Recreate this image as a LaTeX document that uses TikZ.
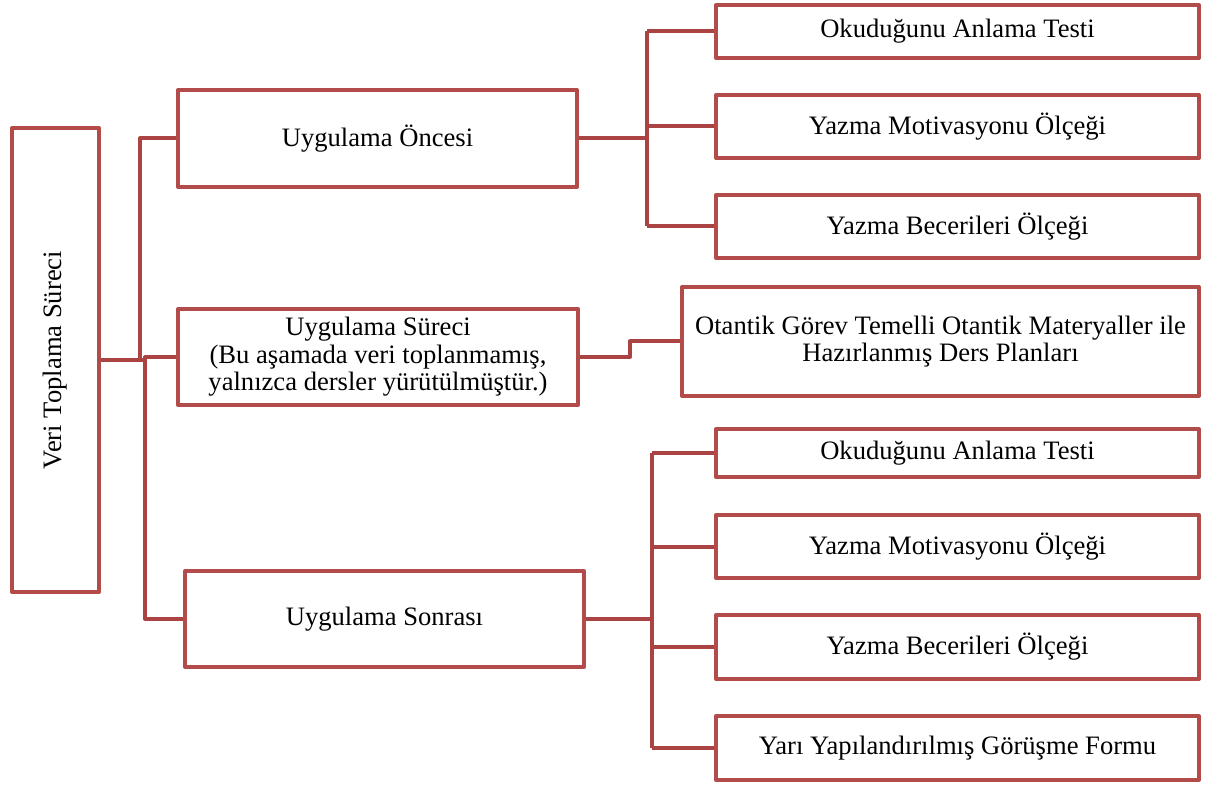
\documentclass[tikz,border=0pt]{standalone}
\usepackage{fontspec}
\setmainfont{Liberation Serif}
\definecolor{boxred}{RGB}{178,76,74}
\definecolor{linered}{RGB}{170,68,66}
\begin{document}
\begin{tikzpicture}[x=1pt,y=-1pt,
  box/.style={draw=boxred,line width=4pt,line join=round,fill=white,inner sep=2pt,align=center,
    font=\fontsize{26.6}{27.6}\selectfont},
  conn/.style={draw=linered,line width=4pt,line join=round}]
\useasboundingbox (0,0) rectangle (1221,786);
% nodes
\node[box,minimum width=87,minimum height=464] (root) at (55.5,360) {};
\node[rotate=90,font=\fontsize{26.6}{27.6}\selectfont] (roottext) at (root.center) {Veri Toplama Süreci};
\node[box,minimum width=399,minimum height=97] (once) at (377.5,138.5) {Uygulama Öncesi};
\node[box,minimum width=400,minimum height=96] (surec) at (378,357) {Uygulama Süreci\\(Bu aşamada veri toplanmamış,\\yalnızca dersler yürütülmüştür.)};
\node[box,minimum width=399,minimum height=96] (sonra) at (384.5,619) {Uygulama Sonrası};
\node[box,minimum width=483,minimum height=53] (a1) at (957.5,31.5) {Okuduğunu Anlama Testi};
\node[box,minimum width=483,minimum height=63] (a2) at (957.5,126.5) {Yazma Motivasyonu Ölçeği};
\node[box,minimum width=483,minimum height=63] (a3) at (957.5,226.5) {Yazma Becerileri Ölçeği};
\node[box,minimum width=517,minimum height=109] (ot) at (940.5,341.5) {Otantik Görev Temelli Otantik Materyaller ile\\Hazırlanmış Ders Planları};
\node[box,minimum width=483,minimum height=48] (b1) at (957.5,453) {Okuduğunu Anlama Testi};
\node[box,minimum width=483,minimum height=63] (b2) at (957.5,546.5) {Yazma Motivasyonu Ölçeği};
\node[box,minimum width=483,minimum height=64] (b3) at (957.5,647) {Yazma Becerileri Ölçeği};
\node[box,minimum width=483,minimum height=64] (b4) at (957.5,748) {Yarı Yapılandırılmış Görüşme Formu};
% junction columns
\coordinate (j1) at (140,0);
\coordinate (j2) at (145,0);
\coordinate (j3) at (647,0);
\coordinate (j4) at (630,0);
\coordinate (j5) at (652,0);
% connectors
\path[conn] (root.east) -- (root.east -| j2);
\path[conn] (root.east -| j1) |- (once.west);
\path[conn] (root.east -| j2) |- (surec.west);
\path[conn] (root.east -| j2) |- (sonra.west);
\path[conn] (once.east) -- (once.east -| j3);
\path[conn] (j3 |- a1.west) -- (j3 |- a3.west);
\path[conn] (j3 |- a1.west) -- (a1.west);
\path[conn] (j3 |- a2.west) -- (a2.west);
\path[conn] (j3 |- a3.west) -- (a3.west);
\path[conn] (surec.east) -- (surec.east -| j4) -- (j4 |- ot.west) -- (ot.west);
\path[conn] (sonra.east) -- (sonra.east -| j5);
\path[conn] (j5 |- b1.west) -- (j5 |- b4.west);
\path[conn] (j5 |- b1.west) -- (b1.west);
\path[conn] (j5 |- b2.west) -- (b2.west);
\path[conn] (j5 |- b3.west) -- (b3.west);
\path[conn] (j5 |- b4.west) -- (b4.west);
\end{tikzpicture}
\end{document}
